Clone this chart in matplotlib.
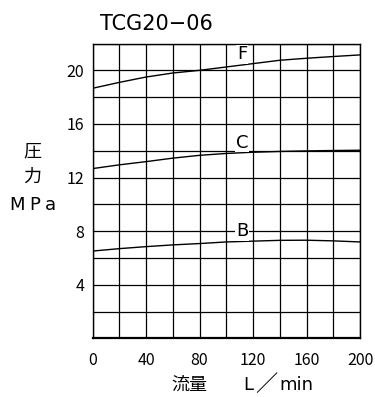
import matplotlib
matplotlib.use("Agg")
import matplotlib.pyplot as plt

plt.rcParams['font.family'] = ['Noto Sans CJK JP', 'DejaVu Sans']

# 流量 L/min
flow = [0, 20, 40, 60, 80, 100, 120, 140, 160, 180, 200]
# 圧力 MPa
curve_f = [18.66, 19.1, 19.5, 19.8, 20.0, 20.25, 20.5, 20.75, 20.9, 21.03, 21.15]
curve_c = [12.67, 12.95, 13.19, 13.45, 13.66, 13.8, 13.89, 13.95, 13.99, 14.02, 14.04]
curve_b = [6.52, 6.7, 6.85, 6.98, 7.08, 7.2, 7.26, 7.32, 7.33, 7.28, 7.2]
curve_names = ['F', 'C', 'B']
label_pos = [(112, 21.2), (112, 14.6), (112, 8.0)]

fig = plt.figure(figsize=(3.75, 3.97), dpi=100)
ax = fig.add_axes([0.2467, 0.1474, 0.7133, 0.743])

for ys in [curve_f, curve_c, curve_b]:
    ax.plot(flow, ys, color='black', lw=1.0, zorder=3)

for name, (x, y) in zip(curve_names, label_pos):
    ax.text(x, y, name, fontsize=13, ha='center', va='center', zorder=4,
            family='DejaVu Sans',
            bbox=dict(facecolor='white', edgecolor='none', pad=0.5))

ax.set_xlim(0, 200)
ax.set_ylim(0, 22)
ax.set_xticks(range(0, 201, 20), minor=True)
ax.set_yticks(range(0, 23, 2), minor=True)
ax.set_xticks([0, 40, 80, 120, 160, 200])
ax.set_yticks([4, 8, 12, 16, 20])
ax.grid(True, which='both', color='black', lw=0.9)
ax.tick_params(which='both', length=0, labelsize=11.5)
ax.tick_params(axis='x', pad=10)
ax.tick_params(axis='y', pad=6)
for s in ax.spines.values():
    s.set_linewidth(1.0)
ax.spines['bottom'].set_linewidth(1.6)

W, H = 375, 397


def px_text(x, y, s, **kw):
    fig.text(x / W, 1 - y / H, s, ha='center', va='center', **kw)


# タイトル
fig.text(100 / W, 1 - 24 / H, 'TCG20−06', fontsize=15, ha='left', va='center',
         family='DejaVu Sans')
# 縦軸ラベル
px_text(32, 151, '圧', fontsize=13)
px_text(32, 177, '力', fontsize=13)
px_text(17, 205, 'M', fontsize=13, family='DejaVu Sans')
px_text(35, 205, 'P', fontsize=13, family='DejaVu Sans')
px_text(50, 205, 'a', fontsize=13, family='DejaVu Sans')
# 横軸ラベル
px_text(189, 385, '流量', fontsize=13)
px_text(248, 385, 'L', fontsize=13, family='DejaVu Sans')
px_text(266, 385, '／', fontsize=16)
px_text(296, 385, 'min', fontsize=13, family='DejaVu Sans')

fig.savefig('out.png', dpi=100)
